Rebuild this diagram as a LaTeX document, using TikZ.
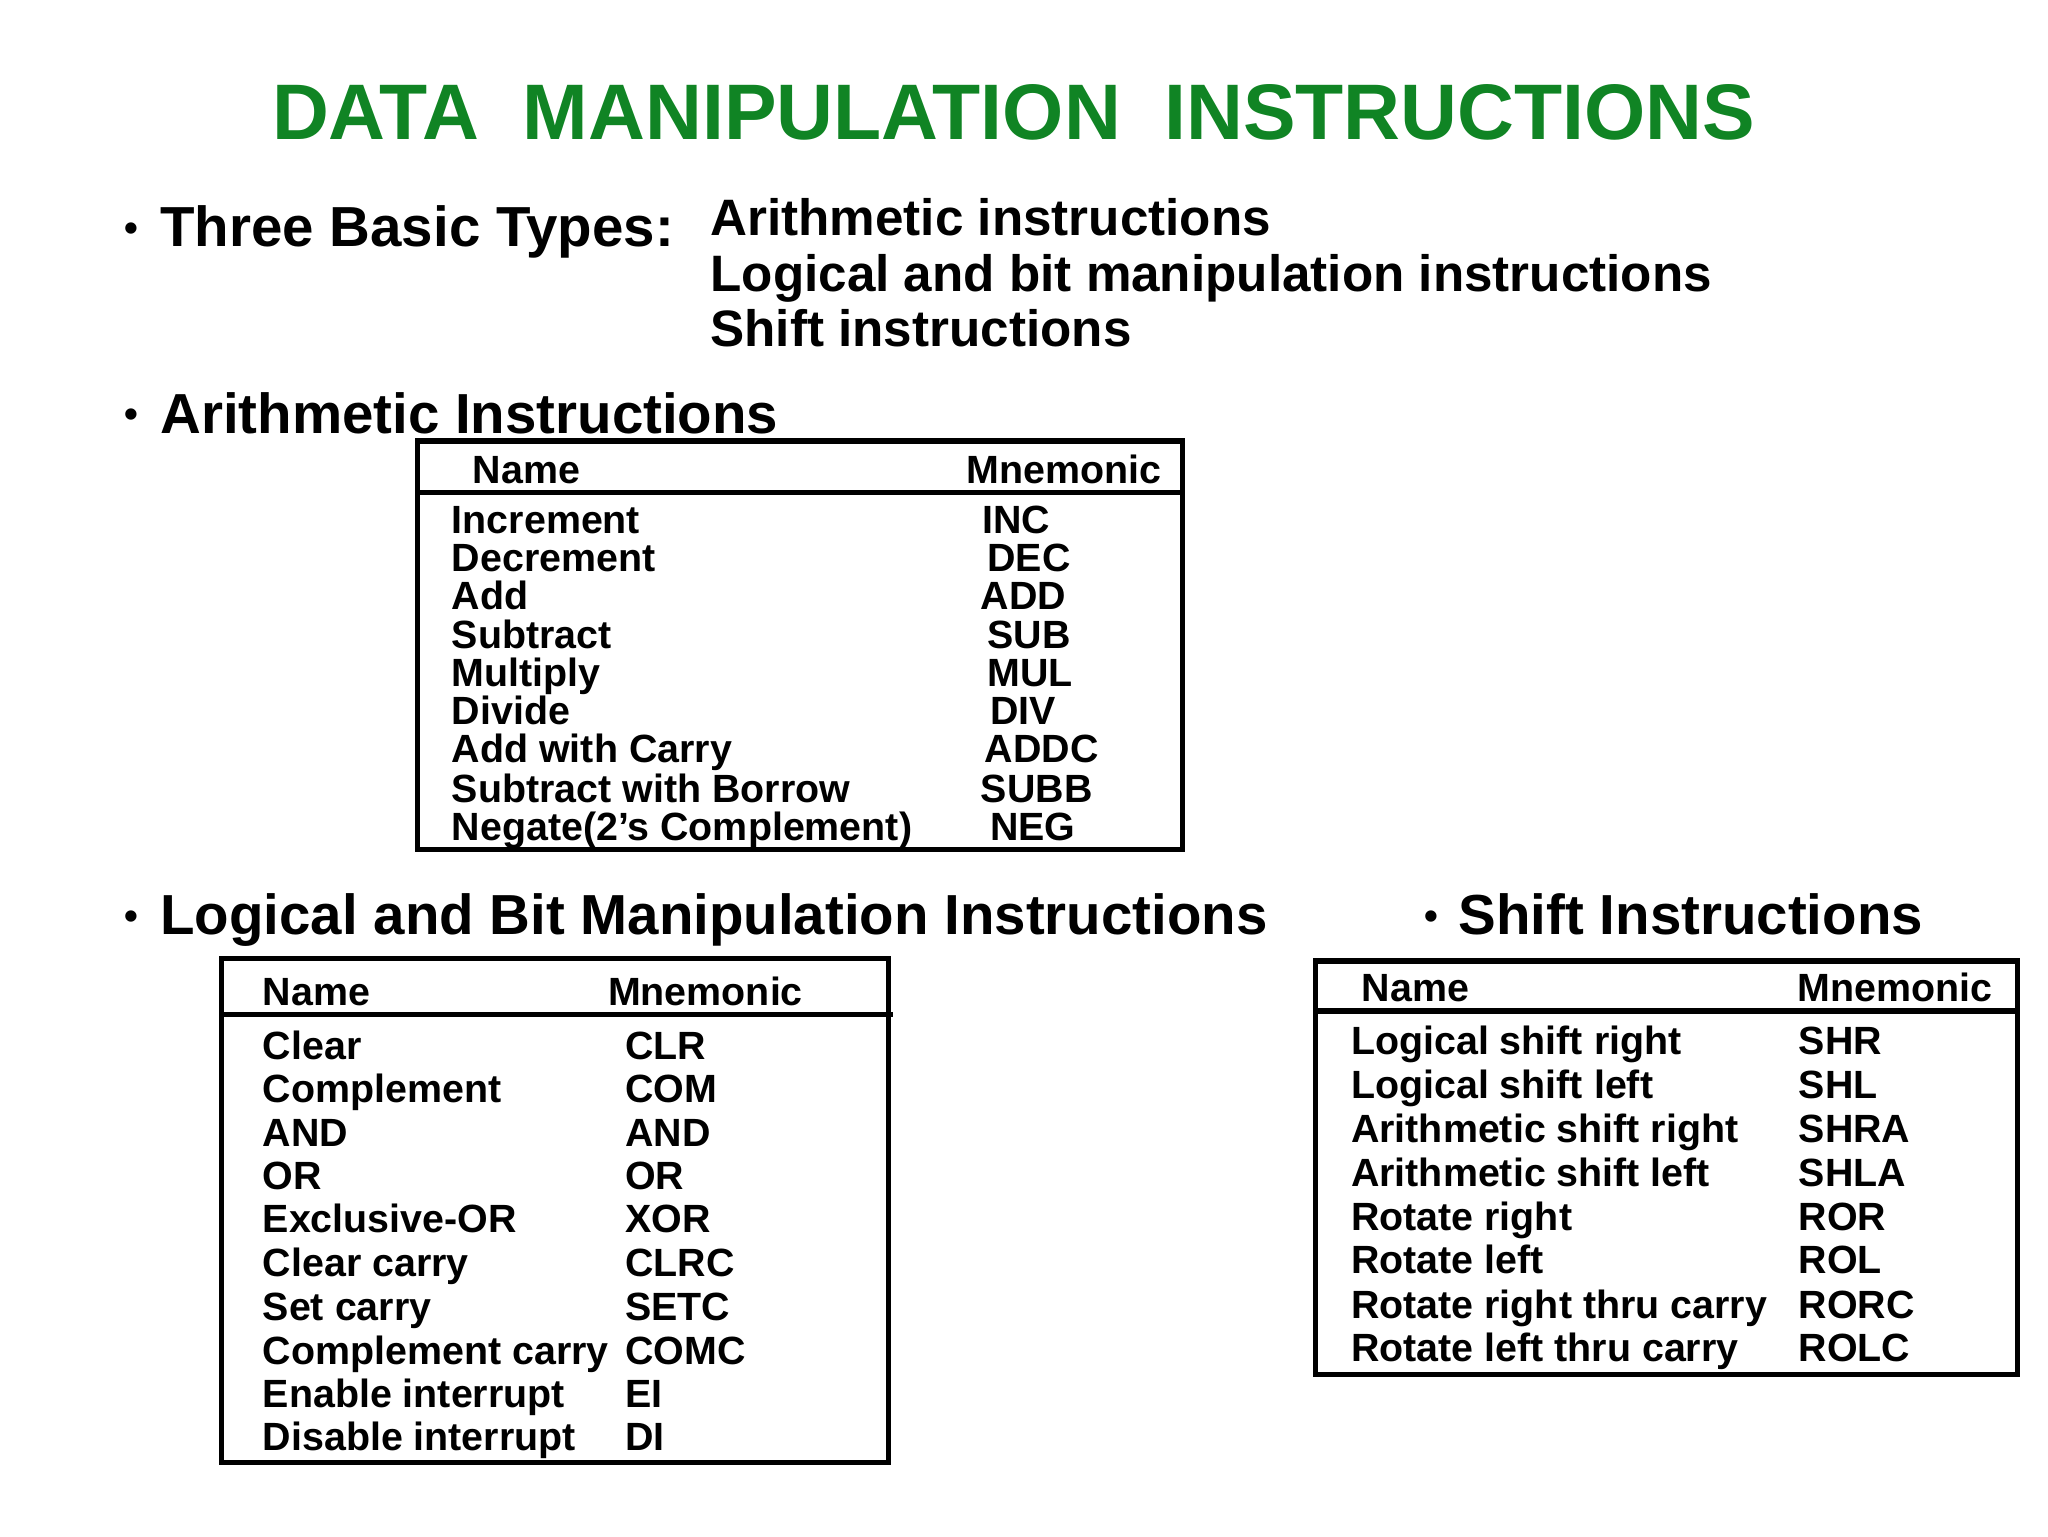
\documentclass[tikz,border=0pt]{standalone}
\usepackage{fontspec}
\setmainfont{Liberation Sans}
\definecolor{titlegreen}{RGB}{16,132,36}
\begin{document}
\begin{tikzpicture}[x=1pt,y=-1pt,
  txt/.style={anchor=base west,inner sep=0pt,font=\bfseries\fontsize{30}{36}\selectfont},
  head/.style={anchor=base west,inner sep=0pt,font=\bfseries\fontsize{43}{50}\selectfont},
  bul/.style={anchor=base west,inner sep=0pt,font=\bfseries\fontsize{30}{36}\selectfont},
  tbox/.style={draw,line width=4pt}]
\useasboundingbox (0,0) rectangle (1560,1170);
\node[anchor=base west,inner sep=0pt,text=titlegreen,font=\bfseries\fontsize{60}{70}\selectfont] (title) at (207,106) {DATA\ \ MANIPULATION\ \ INSTRUCTIONS};
% basic types
\node[bul] (b1) at (95,184) {•};
\node[head] (h1) at (122,188) {Three Basic Types:};
\node[anchor=base west,inner sep=0pt,font=\bfseries\fontsize{39}{45}\selectfont] (t1) at (541,179) {Arithmetic instructions};
\node[anchor=base west,inner sep=0pt,font=\bfseries\fontsize{39}{45}\selectfont] (t2) at (541,222) {Logical and bit manipulation instructions};
\node[anchor=base west,inner sep=0pt,font=\bfseries\fontsize{39}{45}\selectfont] (t3) at (541,264) {Shift instructions};
% arithmetic
\node[bul] (b2) at (95,326) {•};
\node[head] (h2) at (122,330) {Arithmetic Instructions};
\draw[tbox] (318,336) rectangle (901,647);
\draw[line width=4pt] (318,375) -- (901,375);
\node[txt] (an) at (360,368) {Name};
\node[txt] (am) at (736,368) {Mnemonic};
\foreach \y/\n/\mx/\m in {406/Increment/748/INC,435/Decrement/752/DEC,464/Add/747/ADD,494/Subtract/752/SUB,523/Multiply/752/MUL,552/Divide/754/DIV,581/Add with Carry/750/ADDC,611/Subtract with Borrow/747/SUBB,640/Negate(2’s Complement)/754/NEG}{
  \node[txt] at (344,\y) {\n};
  \node[txt] at (\mx,\y) {\m};
}
% logical
\node[bul] (b3) at (95,708) {•};
\node[head] (h3) at (122,712) {Logical and Bit Manipulation Instructions};
\draw[tbox] (169,730) rectangle (677,1114);
\draw[line width=4pt] (169,773) -- (680,773);
\node[txt] (ln) at (200,766) {Name};
\node[txt] (lm) at (463,766) {Mnemonic};
\foreach \y/\n/\m in {807/Clear/CLR,840/Complement/COM,873/AND/AND,906/OR/OR,939/Exclusive-OR/XOR,972/Clear carry/CLRC,1006/Set carry/SETC,1039/Complement carry/COMC,1072/Enable interrupt/EI,1105/Disable interrupt/DI}{
  \node[txt] at (200,\y) {\n};
  \node[txt] at (476,\y) {\m};
}
% shift
\node[bul] (b4) at (1085,708) {•};
\node[head] (h4) at (1111,712) {Shift Instructions};
\draw[tbox] (1002,732) rectangle (1537,1047);
\draw[line width=4pt] (1002,770) -- (1537,770);
\node[txt] (sn) at (1037,763) {Name};
\node[txt] (sm) at (1369,763) {Mnemonic};
\foreach \y/\n/\m in {803/Logical shift right/SHR,837/Logical shift left/SHL,870/Arithmetic shift right/SHRA,904/Arithmetic shift left/SHLA,937/Rotate right/ROR,970/Rotate left/ROL,1004/Rotate right thru carry/RORC,1037/Rotate left thru carry/ROLC}{
  \node[txt] at (1029,\y) {\n};
  \node[txt] at (1370,\y) {\m};
}
\end{tikzpicture}
\end{document}
